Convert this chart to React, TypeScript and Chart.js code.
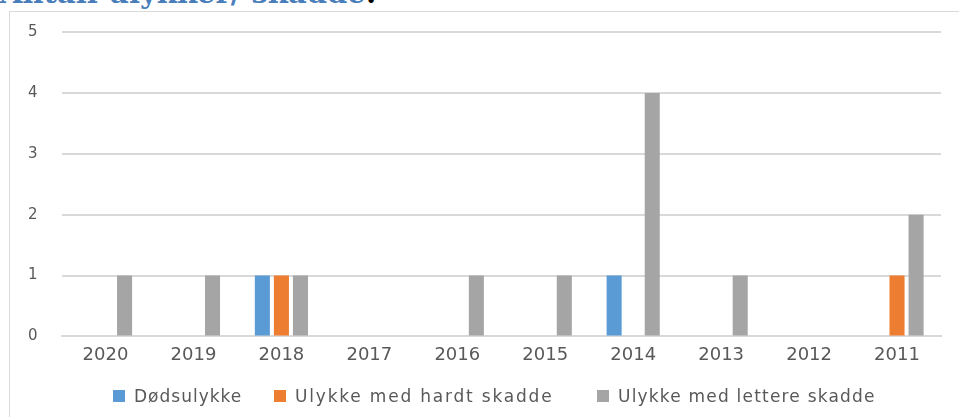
import React, { useEffect, useRef } from "react";
import { Chart, registerables } from "chart.js";

Chart.register(...registerables);

const categories = ["2020", "2019", "2018", "2017", "2016", "2015", "2014", "2013", "2012", "2011"];
const seriesNames = ["Dødsulykke", "Ulykke med hardt skadde", "Ulykke med lettere skadde"];
const dodsulykke = [0, 0, 1, 0, 0, 0, 1, 0, 0, 0];
const hardtSkadde = [0, 0, 1, 0, 0, 0, 0, 0, 0, 1];
const lettereSkadde = [1, 1, 1, 0, 1, 1, 4, 1, 0, 2];
const yTicks = [0, 1, 2, 3, 4, 5];

const colors = ["#5B9BD5", "#ED7D31", "#A5A5A5"];
const legendLeft = [113, 274, 597];
const legendSpacing = [1, 1.8, 1.2];

const FONT = "'DejaVu Sans', sans-serif";

export default function App() {
  const ref = useRef<HTMLCanvasElement | null>(null);
  useEffect(() => {
    if (!ref.current) return;
    const chart = new Chart(ref.current, {
      type: "bar",
      data: {
        labels: categories,
        datasets: [
          { label: seriesNames[0], data: dodsulykke, backgroundColor: colors[0] },
          { label: seriesNames[1], data: hardtSkadde, backgroundColor: colors[1] },
          { label: seriesNames[2], data: lettereSkadde, backgroundColor: colors[2] },
        ],
      },
      options: {
        animation: false,
        responsive: false,
        maintainAspectRatio: false,
        layout: { padding: { left: -4, right: 18, top: 1, bottom: 43 } },
        datasets: { bar: { categoryPercentage: 0.65, barPercentage: 0.79 } },
        plugins: {
          tooltip: { enabled: false },
          legend: { display: false },
        },
        scales: {
          x: {
            grid: { display: false, drawTicks: false },
            border: { color: "#D9D9D9", width: 2 },
            ticks: { color: "#595959", font: { family: FONT, size: 18 }, padding: 8 },
          },
          y: {
            min: 0,
            max: 5,
            afterBuildTicks: (axis: any) => {
              axis.ticks = yTicks.map((v) => ({ value: v }));
            },
            grid: { color: "#D9D9D9", lineWidth: 2, drawTicks: false },
            border: { display: false },
            ticks: { color: "#595959", font: { family: FONT, size: 15 }, padding: 24 },
          },
        },
      },
    });
    return () => chart.destroy();
  }, []);

  return (
    <div style={{ position: "fixed", left: 0, top: 0, width: 959, height: 417, overflow: "hidden", background: "#fff" }}>
      <div
        style={{
          position: "absolute",
          left: 0,
          top: -21,
          fontFamily: "'DejaVu Serif', serif",
          fontWeight: "bold",
          fontSize: 29,
          lineHeight: "29px",
          whiteSpace: "nowrap",
          color: "#4A7EBB",
        }}
      >
        Antall ulykker/ skadde<span style={{ color: "#000" }}>:</span>
      </div>
      <div
        style={{
          position: "absolute",
          left: 9,
          top: 11,
          width: 960,
          height: 420,
          border: "1px solid #D9D9D9",
          borderRightWidth: 0,
          borderBottomWidth: 0,
          boxSizing: "border-box",
        }}
      />
      <canvas ref={ref} width={951} height={418} style={{ position: "absolute", left: 8, top: -1 }} />
      {seriesNames.map((name, i) => (
        <div
          key={name}
          style={{
            position: "absolute",
            left: legendLeft[i],
            top: 386,
            height: 20,
            display: "flex",
            alignItems: "center",
            whiteSpace: "nowrap",
            fontFamily: FONT,
            fontSize: 17,
            letterSpacing: legendSpacing[i],
            color: "#595959",
          }}
        >
          <span style={{ display: "inline-block", width: 12, height: 12, background: colors[i], marginRight: 9 }} />
          {name}
        </div>
      ))}
    </div>
  );
}
